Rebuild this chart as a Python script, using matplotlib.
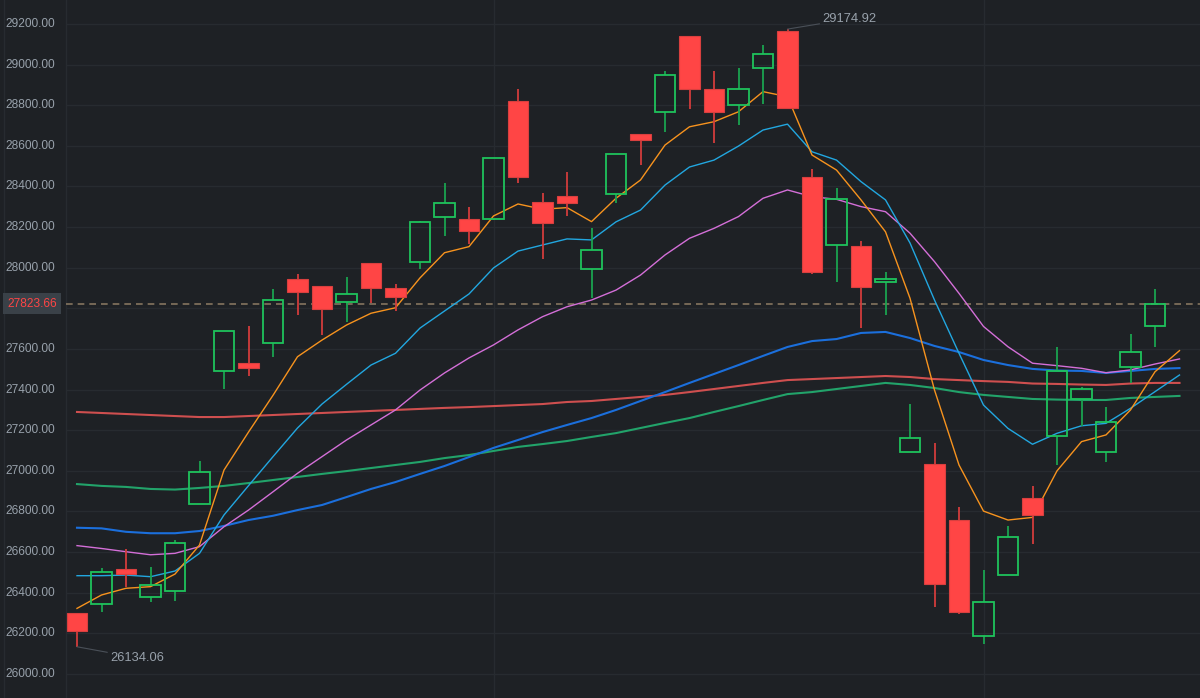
import numpy as np
import matplotlib.pyplot as plt
from matplotlib.patches import Rectangle
from matplotlib.transforms import blended_transform_factory

plt.rcParams['font.family'] = ['Liberation Sans', 'DejaVu Sans']

# candle data (open, high, low, close)
opens = [26302, 26346, 26517, 26378, 26407, 26835, 27490, 27530, 27628, 27945,
         27909, 27833, 28025, 27899, 28027, 28248, 28240, 28242, 28822, 28322,
         28354, 27994, 28362, 28659, 28767, 29141, 28880, 28800, 28981, 29164,
         28445, 28110, 28107, 27931, 27094, 27032, 26758, 26189, 26487, 26868,
         27170, 27355, 27091, 27513, 27712]
closes = [26213, 26501, 26491, 26437, 26646, 26993, 27687, 27505, 27841, 27879,
          27795, 27869, 27899, 27858, 28224, 28317, 28182, 28539, 28445, 28219,
          28318, 28086, 28559, 28629, 28947, 28878, 28765, 28878, 29052, 28786,
          27978, 28337, 27905, 27945, 27160, 26445, 26307, 26356, 26673, 26781,
          27493, 27403, 27239, 27584, 27823.66]
highs = [26302, 26523, 26615, 26528, 26660, 27049, 27687, 27713, 27894, 27968,
         27909, 27954, 28025, 27920, 28230, 28416, 28297, 28539, 28880, 28367,
         28471, 28197, 28559, 28659, 28968, 29141, 28968, 28985, 29097, 29174.92,
         28486, 28391, 28132, 27977, 27329, 27136, 26821, 26512, 26730, 26925,
         27608, 27411, 27316, 27674, 27894]
lows = [26134.06, 26307, 26430, 26356, 26361, 26835, 27402, 27469, 27559, 27767,
        27669, 27734, 27825, 27789, 27994, 28158, 28119, 28235, 28419, 28045,
        28256, 27852, 28320, 28505, 28667, 28781, 28613, 28701, 28805, 28780,
        27969, 27931, 27702, 27767, 27094, 26328, 26294, 26146, 26487, 26638,
        27029, 27222, 27042, 27431, 27611]

# moving averages (one point more than candles)
ma5 = [26323, 26389, 26422, 26430, 26492, 26635, 27004, 27191, 27372, 27562,
       27644, 27718, 27776, 27803, 27950, 28074, 28104, 28255, 28314, 28288,
       28296, 28227, 28342, 28432, 28604, 28694, 28719, 28768, 28867, 28842,
       28555, 28481, 28334, 28177, 27850, 27398, 27029, 26802, 26758, 26771,
       27000, 27144, 27177, 27300, 27488, 27592]
ma10 = [26484, 26484, 26487, 26479, 26507, 26594, 26783, 26927, 27070, 27211,
        27329, 27426, 27521, 27579, 27703, 27787, 27871, 27999, 28082, 28112,
        28142, 28137, 28226, 28284, 28407, 28496, 28530, 28599, 28678, 28707,
        28571, 28530, 28424, 28334, 28122, 27841, 27579, 27324, 27209, 27131,
        27185, 27222, 27234, 27308, 27390, 27472]
ma20 = [26632, 26618, 26602, 26587, 26594, 26627, 26725, 26807, 26897, 26988,
        27070, 27152, 27226, 27300, 27398, 27482, 27556, 27620, 27694, 27759,
        27808, 27841, 27890, 27964, 28063, 28145, 28194, 28252, 28342, 28383,
        28350, 28337, 28301, 28276, 28170, 28030, 27874, 27711, 27611, 27530,
        27518, 27505, 27483, 27497, 27526, 27551]
ma60 = [26720, 26717, 26700, 26693, 26693, 26704, 26729, 26758, 26779, 26807,
        26832, 26871, 26911, 26945, 26985, 27024, 27068, 27113, 27152, 27191,
        27226, 27260, 27300, 27344, 27388, 27433, 27477, 27521, 27566, 27610,
        27639, 27649, 27679, 27684, 27654, 27615, 27585, 27546, 27521, 27502,
        27494, 27492, 27482, 27492, 27502, 27506]
ma120 = [26935, 26926, 26921, 26911, 26908, 26916, 26926, 26940, 26955, 26970,
         26985, 26999, 27014, 27029, 27044, 27063, 27078, 27098, 27118, 27132,
         27147, 27167, 27186, 27211, 27236, 27260, 27290, 27319, 27349, 27378,
         27388, 27403, 27418, 27433, 27423, 27408, 27388, 27374, 27364, 27354,
         27351, 27349, 27349, 27359, 27364, 27369]
ma250 = [27290, 27285, 27280, 27275, 27270, 27265, 27265, 27270, 27275, 27280,
         27285, 27290, 27295, 27300, 27305, 27310, 27314, 27319, 27324, 27329,
         27339, 27344, 27354, 27364, 27374, 27388, 27403, 27418, 27433, 27447,
         27452, 27457, 27462, 27467, 27462, 27452, 27447, 27442, 27438, 27430,
         27428, 27425, 27423, 27430, 27433, 27433]

y_ticks = [26000, 26200, 26400, 26600, 26800, 27000, 27200, 27400, 27600,
           27800, 28000, 28200, 28400, 28600, 28800, 29000, 29200]
last_price = 27823.66

bg = '#1e2125'
grid_c = '#272b30'
txt_c = '#98a1ab'
up_c = '#1fc35c'
down_c = '#ff4545'

fig = plt.figure(figsize=(12, 6.98), dpi=100, facecolor=bg)
ax = fig.add_axes([0, 0, 1, 1])
ax.set_facecolor(bg)
for s in ax.spines.values():
    s.set_visible(False)
ax.set_xticks([])
ax.set_yticks([])

x_left = -77 / 24.5
x_right = (1200 - 77) / 24.5
ax.set_xlim(x_left, x_right)
ax.set_ylim(26000 - 24 / 0.203125, 26000 + 674 / 0.203125)

axis_x = -11 / 24.5
# grid
ax.hlines(y_ticks, axis_x, x_right, color=grid_c, lw=1, zorder=0)
for gx in [-3, 17, 37]:
    ax.axvline(gx, color=grid_c, lw=1, zorder=0)
ax.axvline(axis_x, color=grid_c, lw=1, zorder=0)

trans = blended_transform_factory(ax.transAxes, ax.transData)
for t in y_ticks:
    # the 27800 label sits under the last-price box
    if abs(t - last_price) < 60:
        continue
    ax.text(55 / 1200, t, f'{t:.2f}', transform=trans, ha='right', va='center',
            color=txt_c, fontsize=8.6)

# moving average lines
xs = np.arange(len(ma5))
ax.plot(xs, ma250, color='#cf4f4f', lw=1.5, zorder=2)
ax.plot(xs, ma120, color='#22a36a', lw=1.5, zorder=2)
ax.plot(xs, ma60, color='#1b6fdc', lw=1.5, zorder=2)
ax.plot(xs, ma20, color='#d46fd8', lw=1.0, zorder=2)
ax.plot(xs, ma10, color='#22a7e0', lw=1.0, zorder=2)
ax.plot(xs, ma5, color='#f7931e', lw=1.0, zorder=2)

# candles
w = 0.82
for i, (o, h, l, c) in enumerate(zip(opens, highs, lows, closes)):
    top, bot = max(o, c), min(o, c)
    if c >= o:
        ax.vlines(i, top, h, color='#1aa350', lw=1.3, zorder=3)
        ax.vlines(i, l, bot, color='#1aa350', lw=1.3, zorder=3)
        ax.add_patch(Rectangle((i - w / 2, bot), w, top - bot, facecolor='none',
                               edgecolor=up_c, lw=1.3, zorder=4))
    else:
        ax.vlines(i, l, h, color='#d23c3c', lw=1.3, zorder=3)
        ax.add_patch(Rectangle((i - w / 2, bot), w, top - bot, facecolor=down_c,
                               edgecolor='#d9403f', lw=0.8, zorder=4))

# last price line and label
ax.hlines(last_price, axis_x, x_right, color='#85755f', lw=1.2,
          linestyles=(0, (4, 3)), zorder=1)
ax.text(32 / 1200, last_price, f'{last_price:.2f}', transform=trans,
        ha='center', va='center', color='#ff4545', fontsize=8.6, zorder=6,
        bbox=dict(boxstyle='square,pad=0.35', fc='#3a4148', ec='none'))

# max / min annotations
imax = int(np.argmax(highs))
imin = int(np.argmin(lows))
ax.annotate(f'{highs[imax]:.2f}', xy=(imax, highs[imax]), xytext=(imax + 1.42, 29225),
            color=txt_c, fontsize=9.3, va='center', ha='left',
            arrowprops=dict(arrowstyle='-', color='#4a5058', lw=0.8, shrinkA=0, shrinkB=0))
ax.annotate(f'{lows[imin]:.2f}', xy=(imin, lows[imin]), xytext=(imin + 1.35, 26080),
            color=txt_c, fontsize=9.3, va='center', ha='left',
            arrowprops=dict(arrowstyle='-', color='#4a5058', lw=0.8, shrinkA=0, shrinkB=0))

fig.savefig('out.png', dpi=100, facecolor=bg)
